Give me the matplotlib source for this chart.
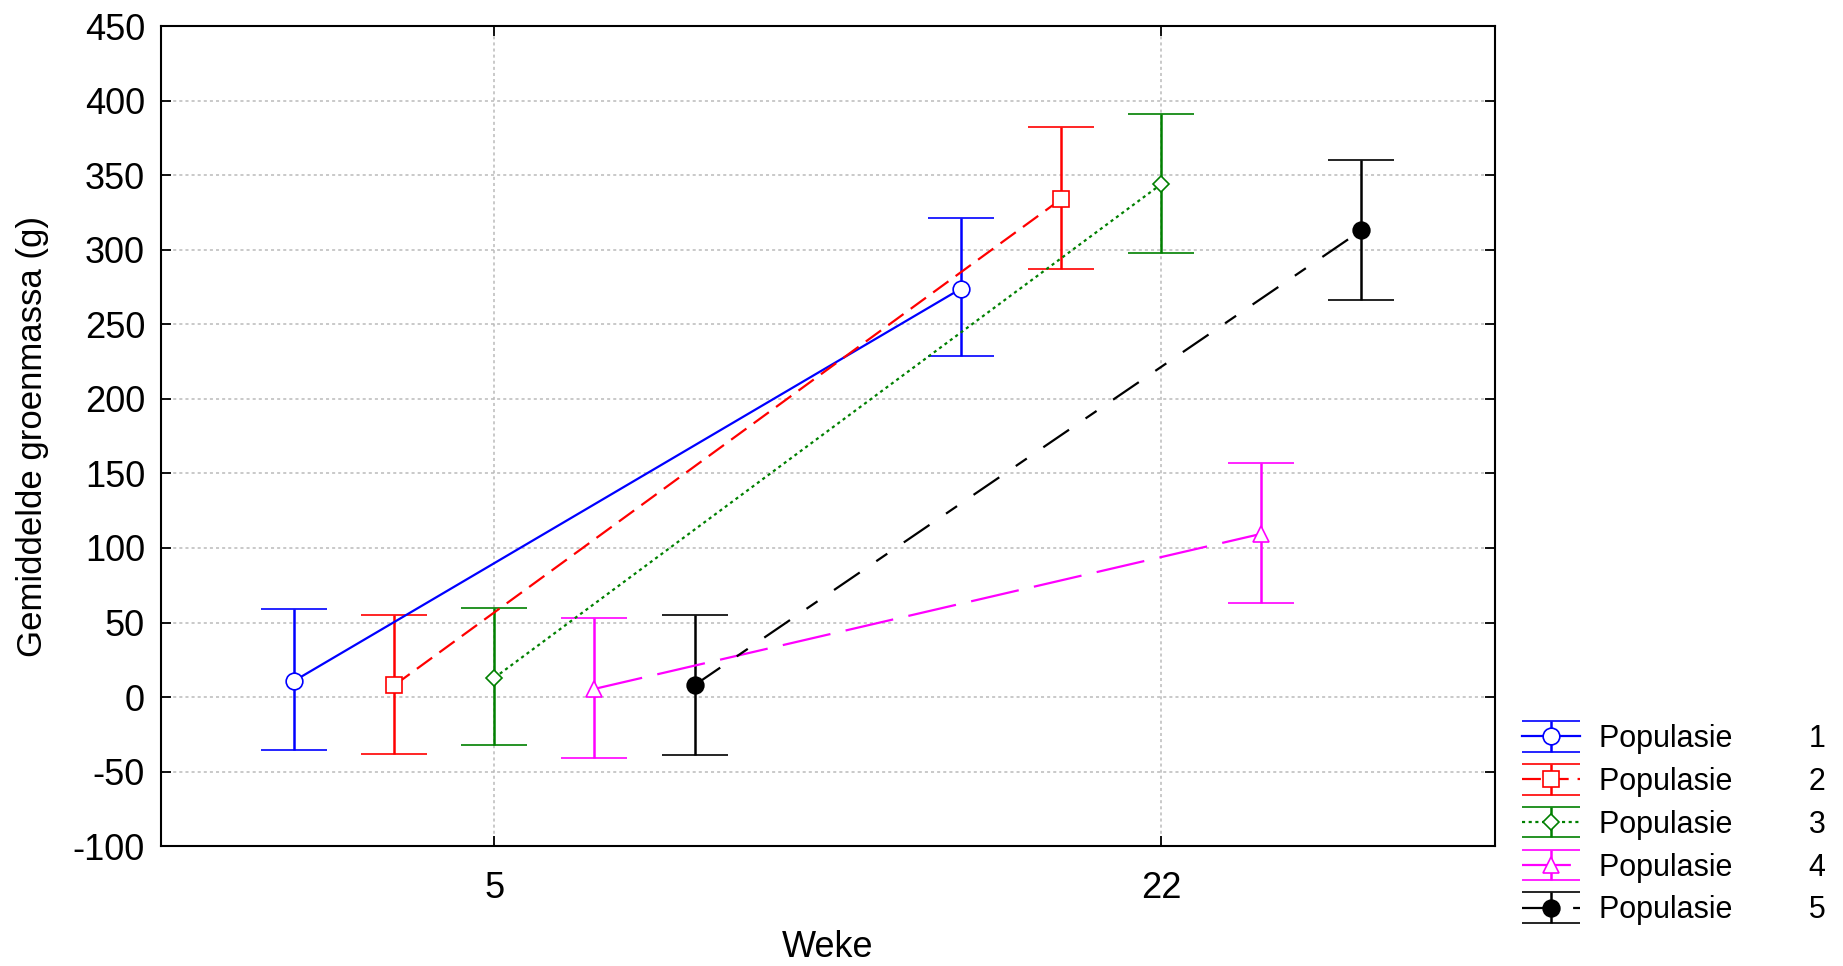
import numpy as np
import matplotlib.pyplot as plt
from matplotlib.legend_handler import HandlerErrorbar

plt.rcParams['font.family'] = ['Liberation Sans', 'DejaVu Sans']
plt.rcParams['axes.unicode_minus'] = False

# Data
weeks = ['5', '22']
populations = ['1', '2', '3', '4', '5']
means = {
    '1': [11, 274],
    '2': [8, 334],
    '3': [13, 344],
    '4': [5.5, 109.5],
    '5': [8, 313],
}
upper = {
    '1': [59, 321.5],
    '2': [55, 382],
    '3': [60, 391],
    '4': [53, 157],
    '5': [55, 360],
}
lower = {
    '1': [-35.5, 228.5],
    '2': [-38, 287],
    '3': [-32, 298],
    '4': [-41, 63],
    '5': [-38.5, 266],
}

colors = ['#0000ff', '#ff0000', '#008000', '#ff00ff', '#000000']
markers = ['o', 's', 'D', '^', 'o']
msizes = [12, 12, 8, 12, 12]
faces = ['white', 'white', 'white', 'white', 'black']
styles = ['-', (0, (8.5, 4)), (0, (1.4, 1.6)), (0, (22, 7)), (0, (14, 9, 6, 9))]
offsets = [-0.3, -0.15, 0.0, 0.15, 0.3]

fig = plt.figure(figsize=(18.43, 9.66), dpi=100)
ax = fig.add_axes([0.0874, 0.124, 0.7236, 0.849])

x = np.arange(len(weeks))
for i, p in enumerate(populations):
    m = np.array(means[p])
    err = [m - np.array(lower[p]), np.array(upper[p]) - m]
    ax.errorbar(x + offsets[i], m, yerr=err, color=colors[i], linestyle=styles[i],
                linewidth=1.6, marker=markers[i], markersize=msizes[i],
                markerfacecolor=faces[i], markeredgecolor=colors[i], markeredgewidth=1.2,
                elinewidth=1.8, capsize=24, capthick=1.8,
                label='Populasie         ' + p, zorder=3)

ax.set_xlim(-0.5, 1.5)
ax.set_ylim(-100, 450)
ax.set_xticks(x)
ax.set_xticklabels(weeks)
ax.set_yticks(np.arange(-100, 451, 50))
ax.grid(True, color='#bbbbbb', linestyle=(0, (2, 2)), linewidth=1.1)
ax.tick_params(direction='in', length=7, width=1.3, top=True, right=True,
               labelsize=26, pad=11.5)
ax.tick_params(axis='x', pad=18)
for s in ax.spines.values():
    s.set_linewidth(1.5)

ax.set_xlabel('Weke', fontsize=26, labelpad=17)
ax.set_ylabel('Gemiddelde groenmassa (g)', fontsize=25, labelpad=17)


# caps in the legend span the whole handle
def fix_caps(handle, orig):
    handle.update_from(orig)
    if hasattr(handle, 'get_marker') and handle.get_marker() == '_':
        handle.set_markersize(42)


fig.legend(loc='lower left', bbox_to_anchor=(0.826, 0.042), frameon=False,
           fontsize=22, handlelength=1.9, labelspacing=0.42, handletextpad=0.6,
           borderpad=0, borderaxespad=0,
           handler_map={type(ax.containers[0]): HandlerErrorbar(update_func=fix_caps)})

fig.savefig('out.png', dpi=100)
